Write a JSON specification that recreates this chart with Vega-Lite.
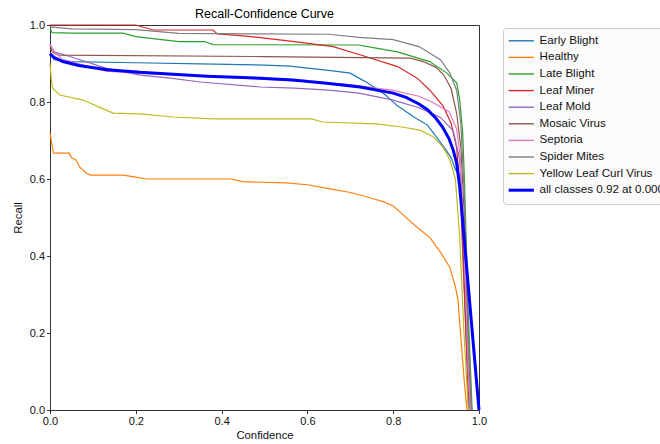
{
  "$schema": "https://vega.github.io/schema/vega-lite/v6.json",
  "width": 429,
  "height": 385,
  "autosize": {"type": "none"},
  "padding": {"left": 50, "top": 25, "right": 181, "bottom": 34},
  "background": "white",
  "title": {"text": "Recall-Confidence Curve", "fontSize": 12.5, "fontWeight": "normal", "font": "Liberation Sans", "color": "black", "offset": -1},
  "config": {
    "font": "Liberation Sans",
    "view": {"stroke": "#333333", "strokeWidth": 1},
    "axis": {"grid": false, "labelFlush": false, "domainColor": "#333333", "tickColor": "#333333", "tickSize": 3.5, "labelFontSize": 11, "labelColor": "#111111", "titleFontSize": 11.3, "titleFontWeight": "normal", "titleColor": "#111111", "labelPadding": 2}
  },
  "data": {"values": [
    {"s":"Early Blight","x":0,"y":0.925},{"s":"Early Blight","x":0.01,"y":0.91},{"s":"Early Blight","x":0.05,"y":0.905},{"s":"Early Blight","x":0.2,"y":0.902},{"s":"Early Blight","x":0.35,"y":0.899},{"s":"Early Blight","x":0.5,"y":0.896},{"s":"Early Blight","x":0.56,"y":0.893},{"s":"Early Blight","x":0.6,"y":0.888},{"s":"Early Blight","x":0.65,"y":0.882},{"s":"Early Blight","x":0.7,"y":0.875},{"s":"Early Blight","x":0.72,"y":0.862},{"s":"Early Blight","x":0.74,"y":0.85},{"s":"Early Blight","x":0.78,"y":0.82},{"s":"Early Blight","x":0.81,"y":0.79},{"s":"Early Blight","x":0.85,"y":0.76},{"s":"Early Blight","x":0.88,"y":0.74},{"s":"Early Blight","x":0.9,"y":0.71},{"s":"Early Blight","x":0.92,"y":0.68},{"s":"Early Blight","x":0.935,"y":0.655},{"s":"Early Blight","x":0.945,"y":0.625},{"s":"Early Blight","x":0.955,"y":0.605},{"s":"Early Blight","x":0.962,"y":0.45},{"s":"Early Blight","x":0.968,"y":0.25},{"s":"Early Blight","x":0.976,"y":0},
    {"s":"Healthy","x":0,"y":0.72},{"s":"Healthy","x":0.003,"y":0.70},{"s":"Healthy","x":0.008,"y":0.667},{"s":"Healthy","x":0.045,"y":0.667},{"s":"Healthy","x":0.05,"y":0.655},{"s":"Healthy","x":0.06,"y":0.65},{"s":"Healthy","x":0.07,"y":0.63},{"s":"Healthy","x":0.085,"y":0.615},{"s":"Healthy","x":0.095,"y":0.61},{"s":"Healthy","x":0.17,"y":0.61},{"s":"Healthy","x":0.2,"y":0.605},{"s":"Healthy","x":0.225,"y":0.6},{"s":"Healthy","x":0.42,"y":0.6},{"s":"Healthy","x":0.45,"y":0.593},{"s":"Healthy","x":0.55,"y":0.59},{"s":"Healthy","x":0.6,"y":0.585},{"s":"Healthy","x":0.65,"y":0.575},{"s":"Healthy","x":0.7,"y":0.565},{"s":"Healthy","x":0.75,"y":0.55},{"s":"Healthy","x":0.78,"y":0.54},{"s":"Healthy","x":0.8,"y":0.53},{"s":"Healthy","x":0.82,"y":0.51},{"s":"Healthy","x":0.85,"y":0.48},{"s":"Healthy","x":0.886,"y":0.447},{"s":"Healthy","x":0.91,"y":0.41},{"s":"Healthy","x":0.932,"y":0.37},{"s":"Healthy","x":0.945,"y":0.32},{"s":"Healthy","x":0.951,"y":0.286},{"s":"Healthy","x":0.96,"y":0.156},{"s":"Healthy","x":0.966,"y":0.07},{"s":"Healthy","x":0.972,"y":0},
    {"s":"Late Blight","x":0,"y":0.99},{"s":"Late Blight","x":0.005,"y":0.98},{"s":"Late Blight","x":0.05,"y":0.979},{"s":"Late Blight","x":0.17,"y":0.979},{"s":"Late Blight","x":0.2,"y":0.97},{"s":"Late Blight","x":0.23,"y":0.966},{"s":"Late Blight","x":0.3,"y":0.957},{"s":"Late Blight","x":0.36,"y":0.957},{"s":"Late Blight","x":0.38,"y":0.949},{"s":"Late Blight","x":0.72,"y":0.948},{"s":"Late Blight","x":0.75,"y":0.942},{"s":"Late Blight","x":0.81,"y":0.93},{"s":"Late Blight","x":0.885,"y":0.905},{"s":"Late Blight","x":0.925,"y":0.875},{"s":"Late Blight","x":0.948,"y":0.85},{"s":"Late Blight","x":0.955,"y":0.805},{"s":"Late Blight","x":0.962,"y":0.72},{"s":"Late Blight","x":0.966,"y":0.6},{"s":"Late Blight","x":0.975,"y":0.25},{"s":"Late Blight","x":0.984,"y":0},
    {"s":"Leaf Miner","x":0,"y":1.0},{"s":"Leaf Miner","x":0.2,"y":1.0},{"s":"Leaf Miner","x":0.24,"y":0.987},{"s":"Leaf Miner","x":0.38,"y":0.987},{"s":"Leaf Miner","x":0.39,"y":0.977},{"s":"Leaf Miner","x":0.45,"y":0.972},{"s":"Leaf Miner","x":0.5,"y":0.966},{"s":"Leaf Miner","x":0.57,"y":0.957},{"s":"Leaf Miner","x":0.66,"y":0.944},{"s":"Leaf Miner","x":0.73,"y":0.92},{"s":"Leaf Miner","x":0.81,"y":0.892},{"s":"Leaf Miner","x":0.856,"y":0.862},{"s":"Leaf Miner","x":0.886,"y":0.83},{"s":"Leaf Miner","x":0.916,"y":0.79},{"s":"Leaf Miner","x":0.935,"y":0.745},{"s":"Leaf Miner","x":0.948,"y":0.68},{"s":"Leaf Miner","x":0.957,"y":0.55},{"s":"Leaf Miner","x":0.966,"y":0.3},{"s":"Leaf Miner","x":0.975,"y":0.05},{"s":"Leaf Miner","x":0.98,"y":0},
    {"s":"Leaf Mold","x":0,"y":0.95},{"s":"Leaf Mold","x":0.01,"y":0.93},{"s":"Leaf Mold","x":0.05,"y":0.917},{"s":"Leaf Mold","x":0.13,"y":0.888},{"s":"Leaf Mold","x":0.21,"y":0.87},{"s":"Leaf Mold","x":0.28,"y":0.862},{"s":"Leaf Mold","x":0.35,"y":0.852},{"s":"Leaf Mold","x":0.49,"y":0.839},{"s":"Leaf Mold","x":0.57,"y":0.836},{"s":"Leaf Mold","x":0.65,"y":0.831},{"s":"Leaf Mold","x":0.72,"y":0.823},{"s":"Leaf Mold","x":0.8,"y":0.805},{"s":"Leaf Mold","x":0.86,"y":0.785},{"s":"Leaf Mold","x":0.91,"y":0.76},{"s":"Leaf Mold","x":0.94,"y":0.725},{"s":"Leaf Mold","x":0.955,"y":0.65},{"s":"Leaf Mold","x":0.965,"y":0.45},{"s":"Leaf Mold","x":0.975,"y":0.1},{"s":"Leaf Mold","x":0.98,"y":0},
    {"s":"Mosaic Virus","x":0,"y":0.95},{"s":"Mosaic Virus","x":0.005,"y":0.93},{"s":"Mosaic Virus","x":0.02,"y":0.922},{"s":"Mosaic Virus","x":0.5,"y":0.918},{"s":"Mosaic Virus","x":0.84,"y":0.914},{"s":"Mosaic Virus","x":0.87,"y":0.905},{"s":"Mosaic Virus","x":0.9,"y":0.89},{"s":"Mosaic Virus","x":0.918,"y":0.87},{"s":"Mosaic Virus","x":0.935,"y":0.835},{"s":"Mosaic Virus","x":0.948,"y":0.77},{"s":"Mosaic Virus","x":0.958,"y":0.68},{"s":"Mosaic Virus","x":0.966,"y":0.5},{"s":"Mosaic Virus","x":0.975,"y":0.15},{"s":"Mosaic Virus","x":0.982,"y":0},
    {"s":"Septoria","x":0,"y":0.95},{"s":"Septoria","x":0.01,"y":0.93},{"s":"Septoria","x":0.03,"y":0.91},{"s":"Septoria","x":0.08,"y":0.895},{"s":"Septoria","x":0.13,"y":0.88},{"s":"Septoria","x":0.2,"y":0.875},{"s":"Septoria","x":0.4,"y":0.865},{"s":"Septoria","x":0.6,"y":0.853},{"s":"Septoria","x":0.7,"y":0.845},{"s":"Septoria","x":0.8,"y":0.83},{"s":"Septoria","x":0.86,"y":0.815},{"s":"Septoria","x":0.89,"y":0.8},{"s":"Septoria","x":0.93,"y":0.775},{"s":"Septoria","x":0.948,"y":0.73},{"s":"Septoria","x":0.956,"y":0.66},{"s":"Septoria","x":0.965,"y":0.45},{"s":"Septoria","x":0.975,"y":0.1},{"s":"Septoria","x":0.98,"y":0},
    {"s":"Spider Mites","x":0,"y":0.995},{"s":"Spider Mites","x":0.05,"y":0.99},{"s":"Spider Mites","x":0.2,"y":0.988},{"s":"Spider Mites","x":0.3,"y":0.978},{"s":"Spider Mites","x":0.65,"y":0.976},{"s":"Spider Mites","x":0.72,"y":0.968},{"s":"Spider Mites","x":0.8,"y":0.962},{"s":"Spider Mites","x":0.86,"y":0.944},{"s":"Spider Mites","x":0.91,"y":0.91},{"s":"Spider Mites","x":0.932,"y":0.875},{"s":"Spider Mites","x":0.948,"y":0.83},{"s":"Spider Mites","x":0.958,"y":0.74},{"s":"Spider Mites","x":0.966,"y":0.55},{"s":"Spider Mites","x":0.975,"y":0.2},{"s":"Spider Mites","x":0.983,"y":0},
    {"s":"Yellow Leaf Curl Virus","x":0,"y":0.9},{"s":"Yellow Leaf Curl Virus","x":0.003,"y":0.86},{"s":"Yellow Leaf Curl Virus","x":0.006,"y":0.836},{"s":"Yellow Leaf Curl Virus","x":0.023,"y":0.818},{"s":"Yellow Leaf Curl Virus","x":0.077,"y":0.805},{"s":"Yellow Leaf Curl Virus","x":0.12,"y":0.784},{"s":"Yellow Leaf Curl Virus","x":0.147,"y":0.771},{"s":"Yellow Leaf Curl Virus","x":0.21,"y":0.769},{"s":"Yellow Leaf Curl Virus","x":0.287,"y":0.761},{"s":"Yellow Leaf Curl Virus","x":0.38,"y":0.756},{"s":"Yellow Leaf Curl Virus","x":0.61,"y":0.756},{"s":"Yellow Leaf Curl Virus","x":0.635,"y":0.748},{"s":"Yellow Leaf Curl Virus","x":0.76,"y":0.743},{"s":"Yellow Leaf Curl Virus","x":0.82,"y":0.735},{"s":"Yellow Leaf Curl Virus","x":0.862,"y":0.727},{"s":"Yellow Leaf Curl Virus","x":0.893,"y":0.71},{"s":"Yellow Leaf Curl Virus","x":0.916,"y":0.683},{"s":"Yellow Leaf Curl Virus","x":0.932,"y":0.65},{"s":"Yellow Leaf Curl Virus","x":0.945,"y":0.6},{"s":"Yellow Leaf Curl Virus","x":0.955,"y":0.45},{"s":"Yellow Leaf Curl Virus","x":0.965,"y":0.2},{"s":"Yellow Leaf Curl Virus","x":0.975,"y":0},
    {"s":"all classes 0.92 at 0.000","x":0,"y":0.925},{"s":"all classes 0.92 at 0.000","x":0.01,"y":0.915},{"s":"all classes 0.92 at 0.000","x":0.03,"y":0.905},{"s":"all classes 0.92 at 0.000","x":0.067,"y":0.895},{"s":"all classes 0.92 at 0.000","x":0.133,"y":0.884},{"s":"all classes 0.92 at 0.000","x":0.21,"y":0.877},{"s":"all classes 0.92 at 0.000","x":0.287,"y":0.872},{"s":"all classes 0.92 at 0.000","x":0.366,"y":0.867},{"s":"all classes 0.92 at 0.000","x":0.49,"y":0.862},{"s":"all classes 0.92 at 0.000","x":0.566,"y":0.857},{"s":"all classes 0.92 at 0.000","x":0.645,"y":0.849},{"s":"all classes 0.92 at 0.000","x":0.723,"y":0.839},{"s":"all classes 0.92 at 0.000","x":0.8,"y":0.823},{"s":"all classes 0.92 at 0.000","x":0.83,"y":0.812},{"s":"all classes 0.92 at 0.000","x":0.86,"y":0.795},{"s":"all classes 0.92 at 0.000","x":0.88,"y":0.78},{"s":"all classes 0.92 at 0.000","x":0.9,"y":0.757},{"s":"all classes 0.92 at 0.000","x":0.915,"y":0.735},{"s":"all classes 0.92 at 0.000","x":0.93,"y":0.705},{"s":"all classes 0.92 at 0.000","x":0.94,"y":0.675},{"s":"all classes 0.92 at 0.000","x":0.948,"y":0.64},{"s":"all classes 0.92 at 0.000","x":0.955,"y":0.58},{"s":"all classes 0.92 at 0.000","x":1.0,"y":0.0}
  ]},
  "mark": {"type": "line", "interpolate": "linear"},
  "encoding": {
    "x": {"field": "x", "type": "quantitative", "scale": {"domain": [0, 1], "nice": false}, "axis": {"title": "Confidence", "values": [0, 0.2, 0.4, 0.6, 0.8, 1.0], "format": ".1f", "titlePadding": 3}},
    "y": {"field": "y", "type": "quantitative", "scale": {"domain": [0, 1], "nice": false}, "axis": {"title": "Recall", "values": [0, 0.2, 0.4, 0.6, 0.8, 1.0], "format": ".1f", "titlePadding": 6}},
    "strokeWidth": {"condition": {"test": "datum.s === 'all classes 0.92 at 0.000'", "value": 3}, "value": 1.2},
    "color": {"field": "s", "type": "nominal",
      "scale": {"domain": ["Early Blight","Healthy","Late Blight","Leaf Miner","Leaf Mold","Mosaic Virus","Septoria","Spider Mites","Yellow Leaf Curl Virus","all classes 0.92 at 0.000"],
                "range": ["#1f77b4","#ff7f0e","#2ca02c","#d62728","#9467bd","#8c564b","#e377c2","#7f7f7f","#bcbd22","#0000ff"]},
      "legend": {"title": null, "orient": "none", "legendX": 453, "legendY": 3, "fillColor": "#fbfbfc", "strokeColor": "#cccccc", "cornerRadius": 3, "padding": 7, "labelFontSize": 11.6, "labelColor": "#111111", "symbolType": "M-2.1,0H2.1", "symbolSize": 144, "symbolOffset": 5.5, "labelOffset": 12.5, "rowPadding": 3.6, "labelLimit": 300,
        "encode": {"symbols": {"update": {"strokeWidth": {"signal": "datum.value === 'all classes 0.92 at 0.000' ? 3 : 1.4"}}}}}}
  }
}
